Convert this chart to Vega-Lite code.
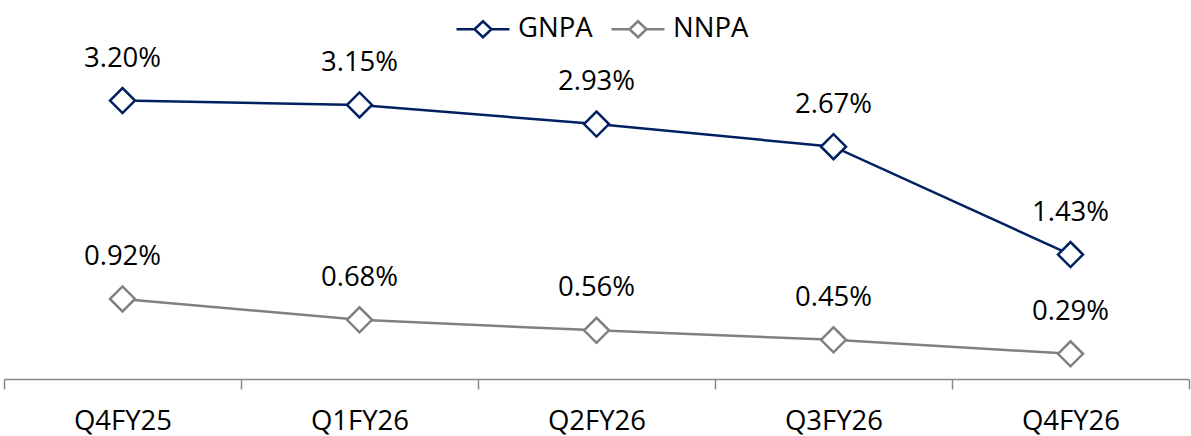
{
  "$schema": "https://vega.github.io/schema/vega-lite/v6.json",
  "width": 1185,
  "height": 348,
  "autosize": {"type": "none"},
  "padding": {"left": 4, "top": 31, "right": 2, "bottom": 57},
  "background": "white",
  "config": {
    "view": {"stroke": null},
    "font": "Open Sans"
  },
  "data": {
    "values": [
      {"quarter": "Q4FY25", "series": "GNPA", "value": 0.0320},
      {"quarter": "Q1FY26", "series": "GNPA", "value": 0.0315},
      {"quarter": "Q2FY26", "series": "GNPA", "value": 0.0293},
      {"quarter": "Q3FY26", "series": "GNPA", "value": 0.0267},
      {"quarter": "Q4FY26", "series": "GNPA", "value": 0.0143},
      {"quarter": "Q4FY25", "series": "NNPA", "value": 0.0092},
      {"quarter": "Q1FY26", "series": "NNPA", "value": 0.0068},
      {"quarter": "Q2FY26", "series": "NNPA", "value": 0.0056},
      {"quarter": "Q3FY26", "series": "NNPA", "value": 0.0045},
      {"quarter": "Q4FY26", "series": "NNPA", "value": 0.0029}
    ]
  },
  "encoding": {
    "x": {
      "field": "quarter",
      "type": "nominal",
      "sort": null,
      "scale": {"type": "band", "paddingInner": 0, "paddingOuter": 0},
      "axis": {
        "title": null,
        "labelAngle": 0,
        "tickBand": "extent",
        "domainColor": "#898989",
        "domainWidth": 1.5,
        "tickColor": "#898989",
        "tickWidth": 1.5,
        "tickSize": 10,
        "labelFont": "Open Sans",
        "labelFontSize": 27.5,
        "labelColor": "#000000",
        "labelPadding": 18,
        "grid": false
      }
    },
    "y": {
      "field": "value",
      "type": "quantitative",
      "scale": {"domain": [0, 0.04], "nice": false},
      "axis": null
    },
    "color": {
      "field": "series",
      "type": "nominal",
      "scale": {"domain": ["GNPA", "NNPA"], "range": ["#002060", "#808080"]},
      "legend": {
        "title": null,
        "orient": "none",
        "direction": "horizontal",
        "legendX": 451,
        "legendY": -30,
        "symbolType": "M-1,0L-0.32,0M0.32,0L1,0M-0.32,0L0,-0.3L0.32,0L0,0.3Z",
        "symbolSize": 2809,
        "symbolStrokeWidth": 2.5,
        "symbolFillColor": "white",
        "labelFont": "Open Sans",
        "labelFontSize": 27.5,
        "labelColor": "#000000",
        "labelOffset": 7,
        "columnPadding": 13,
        "padding": 0
      }
    }
  },
  "layer": [
    {"mark": {"type": "line", "strokeWidth": 2.5}},
    {"mark": {"type": "point", "shape": "diamond", "size": 625, "filled": true, "fill": "white", "strokeWidth": 2.5, "opacity": 1}, "encoding": {"stroke": {"field": "series", "type": "nominal", "scale": {"domain": ["GNPA", "NNPA"], "range": ["#002060", "#808080"]}, "legend": null}, "color": {"value": "white"}}},
    {"mark": {"type": "text", "dy": -42, "baseline": "middle", "fontSize": 27.5, "font": "Open Sans", "color": "#000000"}, "encoding": {"text": {"field": "value", "type": "quantitative", "format": ".2%"}, "color": {"value": "#000000"}}}
  ]
}
